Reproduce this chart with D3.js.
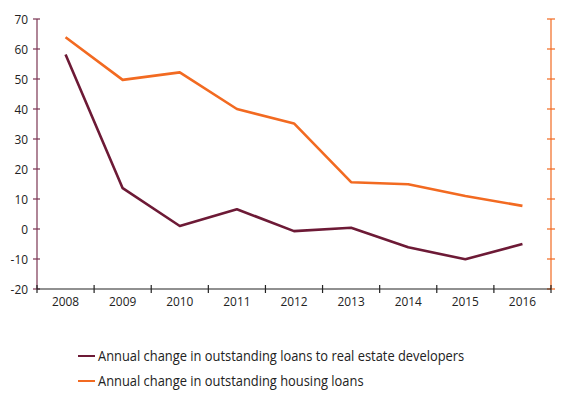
<!DOCTYPE html>
<html>
<head>
<meta charset="utf-8">
<script src="https://cdn.jsdelivr.net/npm/d3@7"></script>
<style>
  body { margin: 0; background: #fff; }
  svg { display: block; }
  text { font-family: "Open Sans", sans-serif; }
</style>
</head>
<body>
<svg id="chart" width="561" height="394"></svg>
<script>
// Years on the horizontal axis
const years = ["2008", "2009", "2010", "2011", "2012", "2013", "2014", "2015", "2016"];
// Annual change in outstanding loans to real estate developers (%)
const developerLoans = [58.2, 13.6, 1.0, 6.6, -0.7, 0.4, -6.1, -10.1, -5.0];
// Annual change in outstanding housing loans (%)
const housingLoans = [63.9, 49.7, 52.2, 40.0, 35.2, 15.6, 14.9, 11.0, 7.7];
// Left axis ticks
const yTicks = [-20, -10, 0, 10, 20, 30, 40, 50, 60, 70];
// Legend entries
const legendLabels = [
  "Annual change in outstanding loans to real estate developers",
  "Annual change in outstanding housing loans"
];

const purple = "#6d1a36";
const orange = "#f26a21";
const axisPurple = "#7b3553";

const svg = d3.select("#chart");
const plotLeft = 37, plotRight = 551, plotTop = 19, plotBottom = 289;

const x = d3.scaleBand().domain(years).range([plotLeft, plotRight]);
const y = d3.scaleLinear().domain([-20, 70]).range([plotBottom, plotTop]);

// Narrow type: Open Sans squeezed horizontally
function narrow(sel, sx) {
  sel.attr("transform", function () {
    const tx = +d3.select(this).attr("x"), ty = +d3.select(this).attr("y");
    return `translate(${tx},${ty}) scale(${sx},1) translate(${-tx},${-ty})`;
  });
}

// Left axis
const gl = svg.append("g").attr("transform", `translate(${plotLeft},0)`);
gl.append("line").attr("y1", plotTop).attr("y2", plotBottom).attr("stroke", axisPurple).attr("stroke-width", 1.2);
gl.selectAll("line.tick").data(yTicks).join("line")
  .attr("class", "tick")
  .attr("x1", -4).attr("x2", 3)
  .attr("y1", d => y(d)).attr("y2", d => y(d))
  .attr("stroke", axisPurple).attr("stroke-width", 1.2);
gl.selectAll("text").data(yTicks).join("text")
  .attr("x", -9).attr("y", d => y(d))
  .attr("dy", "0.35em")
  .attr("text-anchor", "end")
  .attr("font-size", 13.5)
  .attr("fill", "#222")
  .text(d => d)
  .call(narrow, 0.88);

// Right axis (same gridline positions)
const gr = svg.append("g").attr("transform", `translate(${plotRight},0)`);
gr.append("line").attr("y1", plotTop).attr("y2", plotBottom).attr("stroke", orange).attr("stroke-width", 1.2);
gr.selectAll("line.tick").data(yTicks).join("line")
  .attr("class", "tick")
  .attr("x1", -4).attr("x2", 4)
  .attr("y1", d => y(d)).attr("y2", d => y(d))
  .attr("stroke", orange).attr("stroke-width", 1.2);

// Bottom axis with ticks at category boundaries
const gx = svg.append("g");
gx.append("line").attr("x1", plotLeft).attr("x2", plotRight).attr("y1", plotBottom).attr("y2", plotBottom)
  .attr("stroke", "#222").attr("stroke-width", 1.2);
const bounds = years.map(d => x(d)).concat([x(years[years.length - 1]) + x.bandwidth()]);
gx.selectAll("line.tick").data(bounds).join("line")
  .attr("class", "tick")
  .attr("x1", d => d).attr("x2", d => d)
  .attr("y1", plotBottom - 4).attr("y2", plotBottom + 4)
  .attr("stroke", "#222").attr("stroke-width", 1.2);
gx.selectAll("text").data(years).join("text")
  .attr("x", d => x(d) + x.bandwidth() / 2)
  .attr("y", plotBottom + 17)
  .attr("text-anchor", "middle")
  .attr("font-size", 13.5)
  .attr("fill", "#222")
  .text(d => d)
  .call(narrow, 0.88);

// Lines
const line = d3.line()
  .x((d, i) => x(years[i]) + x.bandwidth() / 2)
  .y(d => y(d));

svg.append("path").datum(housingLoans)
  .attr("d", line).attr("fill", "none")
  .attr("stroke", orange).attr("stroke-width", 2.6).attr("stroke-linejoin", "round");
svg.append("path").datum(developerLoans)
  .attr("d", line).attr("fill", "none")
  .attr("stroke", purple).attr("stroke-width", 2.6).attr("stroke-linejoin", "round");

// Legend
const legend = svg.append("g");
const colors = [purple, orange];
legendLabels.forEach((label, i) => {
  const ly = 356 + i * 25;
  legend.append("line").attr("x1", 78).attr("x2", 95).attr("y1", ly).attr("y2", ly)
    .attr("stroke", colors[i]).attr("stroke-width", 2);
  legend.append("text").attr("x", 98).attr("y", ly).attr("dy", "0.35em")
    .attr("font-size", 15).attr("fill", "#222").text(label)
    .call(narrow, 0.86);
});
</script>
</body>
</html>
